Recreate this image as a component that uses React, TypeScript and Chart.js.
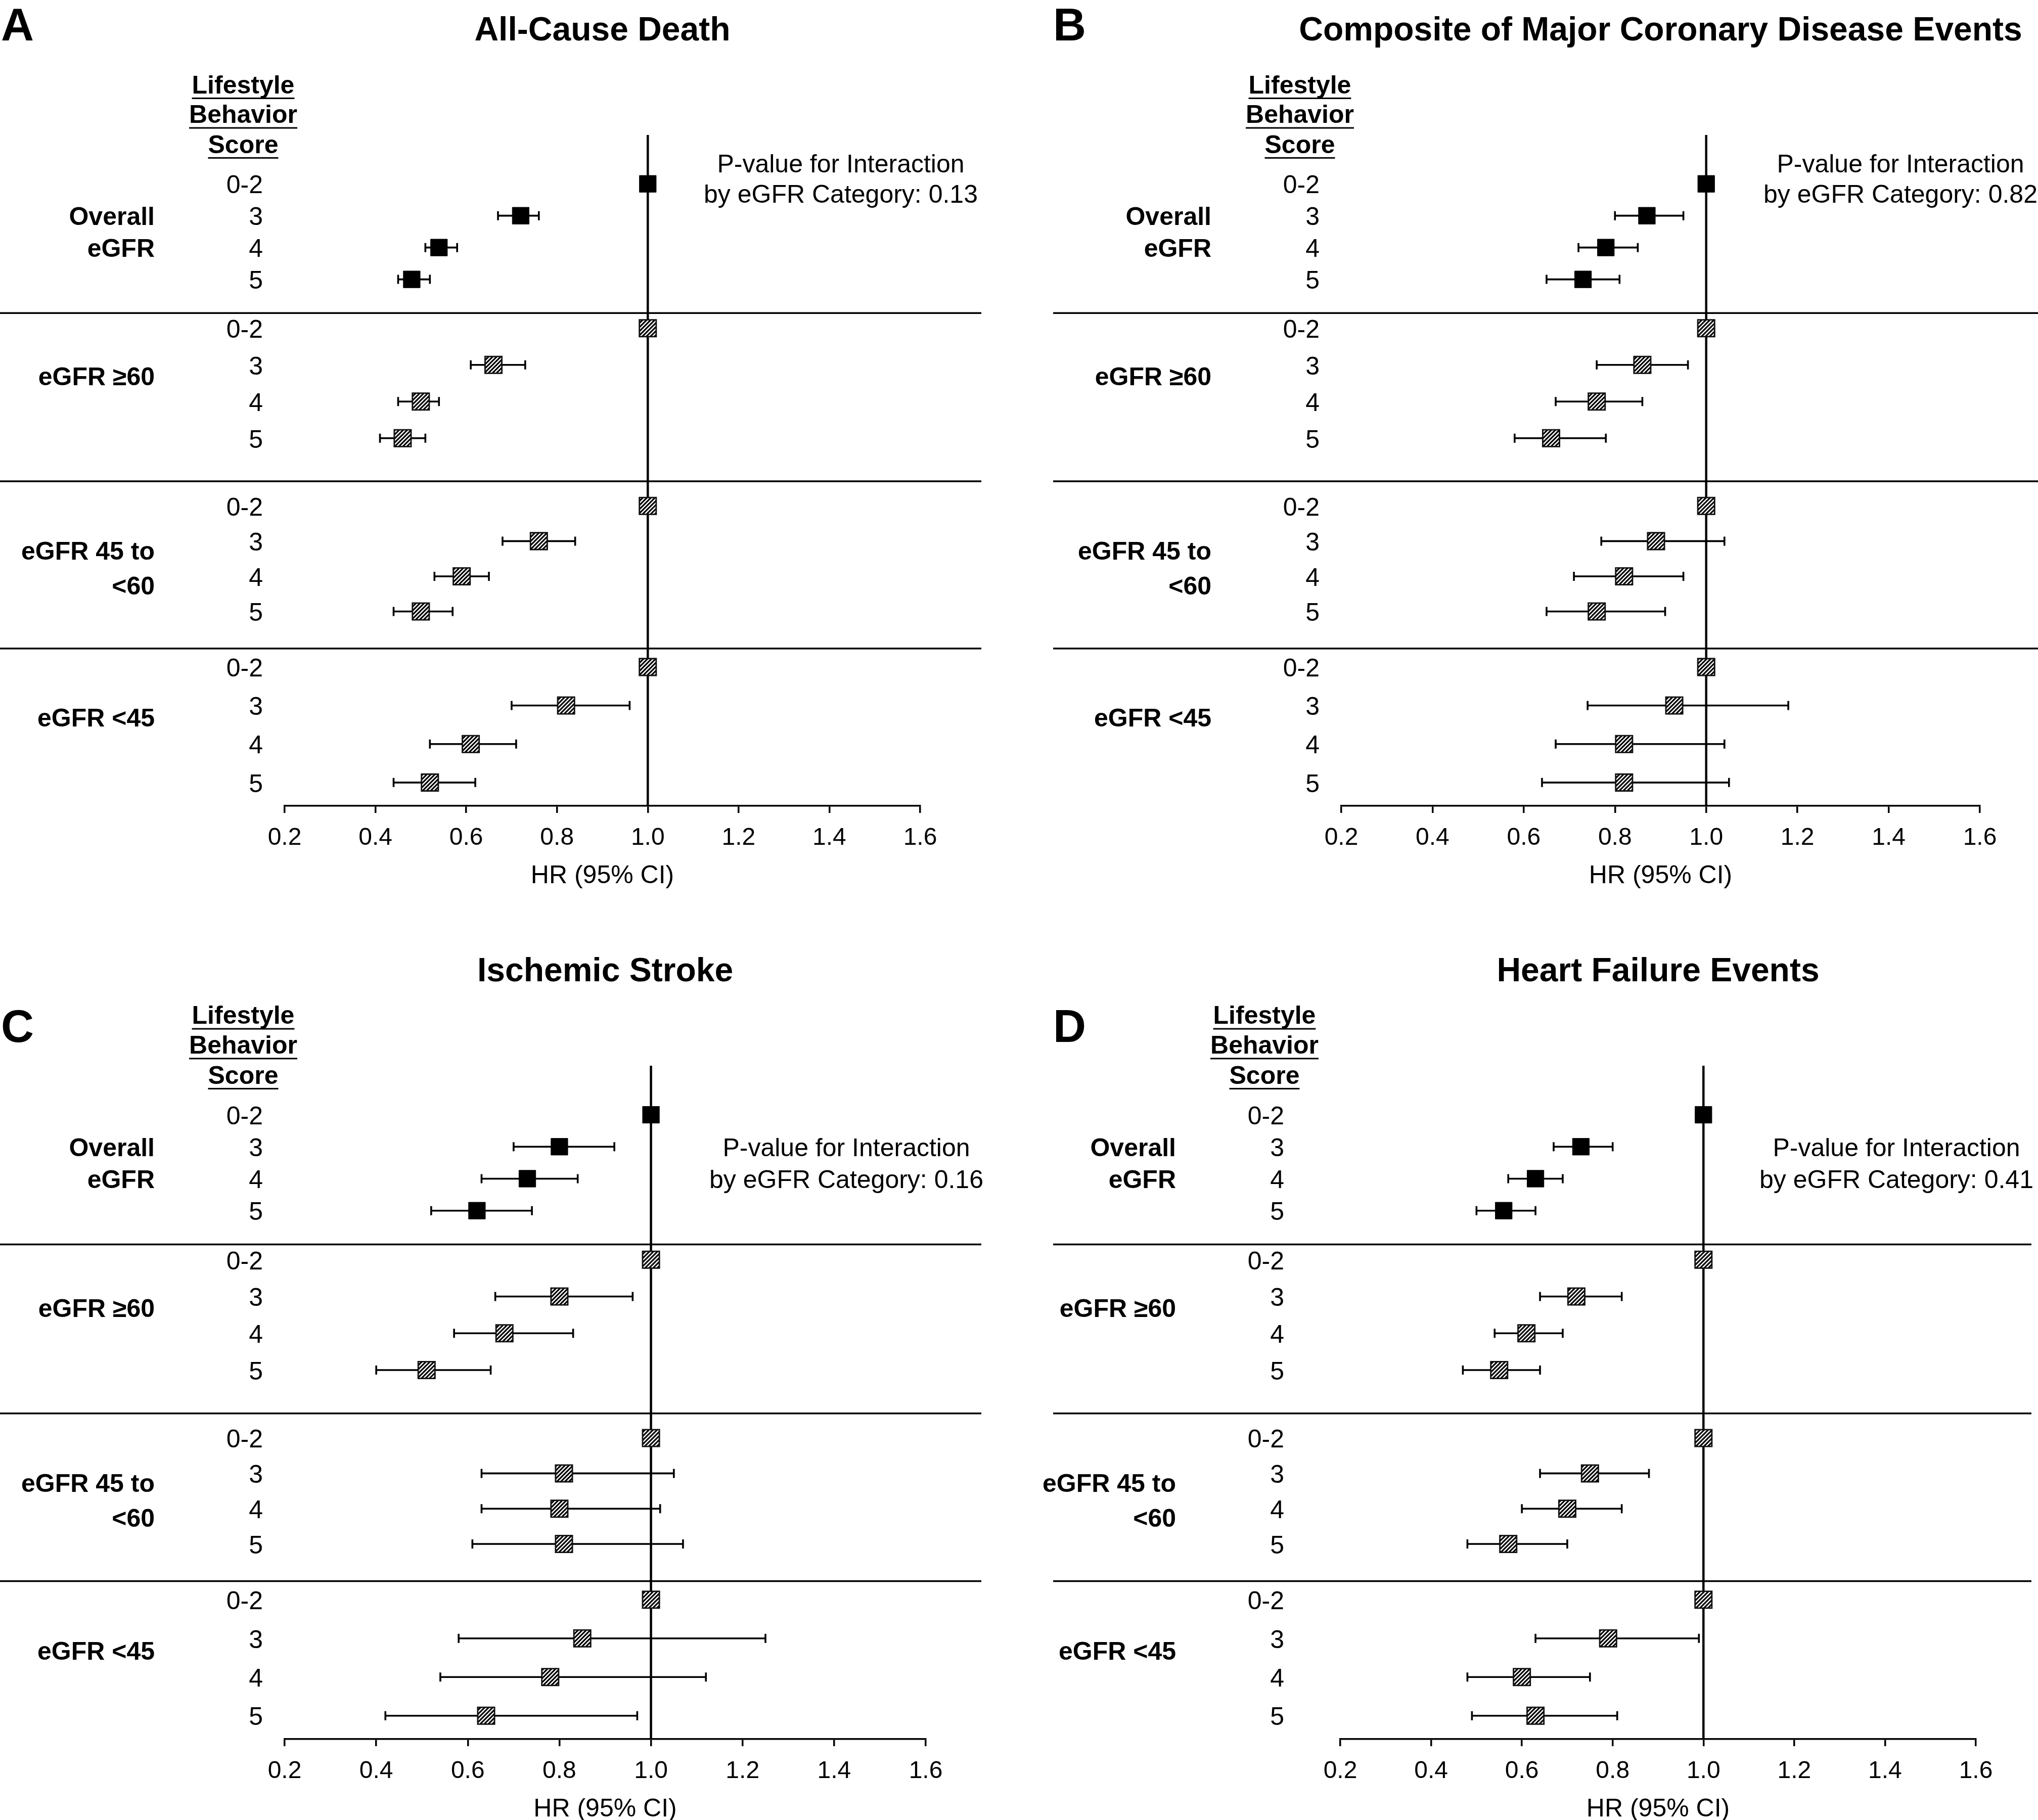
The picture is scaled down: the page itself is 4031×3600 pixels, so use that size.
import React, { useEffect, useRef } from 'react';
import { Chart, registerables } from 'chart.js';

Chart.register(...registerables);

// ---------------- data ----------------
const PANEL_LETTERS = ['A', 'B', 'C', 'D'];
const PANEL_TITLES = [
  'All-Cause Death',
  'Composite of Major Coronary Disease Events',
  'Ischemic Stroke',
  'Heart Failure Events',
];
const P_VALUES = ['0.13', '0.82', '0.16', '0.41'];
const P_LINE_1 = 'P-value for Interaction';
const P_LINE_2 = 'by eGFR Category: ';
const HEADER_LINES = ['Lifestyle', 'Behavior', 'Score'];
const GROUP_LABELS = [['Overall', 'eGFR'], ['eGFR \u226560'], ['eGFR 45 to', '<60'], ['eGFR <45']];
const SCORE_LABELS = ['0-2', '3', '4', '5'];
const X_TICKS = [0.2, 0.4, 0.6, 0.8, 1.0, 1.2, 1.4, 1.6];
const X_TITLE = 'HR (95% CI)';
const REFERENCE_HR = 1.0;

// rows: Overall(0-2,3,4,5), eGFR>=60(...), eGFR 45-<60(...), eGFR<45(...)
const A_HR = [1.0, 0.72, 0.54, 0.48, 1.0, 0.66, 0.5, 0.46, 1.0, 0.76, 0.59, 0.5, 1.0, 0.82, 0.61, 0.52];
const A_LO = [null, 0.67, 0.51, 0.45, null, 0.61, 0.45, 0.41, null, 0.68, 0.53, 0.44, null, 0.7, 0.52, 0.44];
const A_HI = [null, 0.76, 0.58, 0.52, null, 0.73, 0.54, 0.51, null, 0.84, 0.65, 0.57, null, 0.96, 0.71, 0.62];

const B_HR = [1.0, 0.87, 0.78, 0.73, 1.0, 0.86, 0.76, 0.66, 1.0, 0.89, 0.82, 0.76, 1.0, 0.93, 0.82, 0.82];
const B_LO = [null, 0.8, 0.72, 0.65, null, 0.76, 0.67, 0.58, null, 0.77, 0.71, 0.65, null, 0.74, 0.67, 0.64];
const B_HI = [null, 0.95, 0.85, 0.81, null, 0.96, 0.86, 0.78, null, 1.04, 0.95, 0.91, null, 1.18, 1.04, 1.05];

const C_HR = [1.0, 0.8, 0.73, 0.62, 1.0, 0.8, 0.68, 0.51, 1.0, 0.81, 0.8, 0.81, 1.0, 0.85, 0.78, 0.64];
const C_LO = [null, 0.7, 0.63, 0.52, null, 0.66, 0.57, 0.4, null, 0.63, 0.63, 0.61, null, 0.58, 0.54, 0.42];
const C_HI = [null, 0.92, 0.84, 0.74, null, 0.96, 0.83, 0.65, null, 1.05, 1.02, 1.07, null, 1.25, 1.12, 0.97];

const D_HR = [1.0, 0.73, 0.63, 0.56, 1.0, 0.72, 0.61, 0.55, 1.0, 0.75, 0.7, 0.57, 1.0, 0.79, 0.6, 0.63];
const D_LO = [null, 0.67, 0.57, 0.5, null, 0.64, 0.54, 0.47, null, 0.64, 0.6, 0.48, null, 0.63, 0.48, 0.49];
const D_HI = [null, 0.8, 0.69, 0.63, null, 0.82, 0.69, 0.64, null, 0.88, 0.82, 0.7, null, 0.99, 0.75, 0.81];

const HRS = [A_HR, B_HR, C_HR, D_HR];
const LOS = [A_LO, B_LO, C_LO, D_LO];
const HIS = [A_HI, B_HI, C_HI, D_HI];

// ---------------- layout ----------------
const FONT = '"Liberation Sans", Arial, Helvetica, sans-serif';
const ROWS_PER_GROUP = 4;
const GROUP_START = [0, 3.9, 8.7, 13.05];
const ROW_STEP = [0.86, 0.99, 0.95, 1.04];
const Y_MIN = -1.32;
const Y_MAX = 16.8;
const X_AXIS_HEIGHT = 164;
const TEXT_DY = 5;

const LAYOUT = [
  { left: 0, top: 0, width: 2000, height: 1800, pad: { left: 563, right: 180, top: 267, bottom: 42 }, titleY: 62, letterX: 2, letterY: 55, shift: 0, pRows: [-0.56, 0.25], sepX: [0, 1941] },
  { left: 2031, top: 0, width: 2000, height: 1800, pad: { left: 622, right: 115, top: 267, bottom: 42 }, titleY: 62, letterX: 52, letterY: 55, shift: 0, pRows: [-0.56, 0.25], sepX: [52, 2000] },
  { left: 0, top: 1800, width: 2000, height: 1810, pad: { left: 563, right: 169, top: 308, bottom: 6 }, titleY: 123, letterX: 2, letterY: 236, shift: 0, pRows: [0.86, 1.72], sepX: [0, 1941] },
  { left: 2031, top: 1800, width: 2000, height: 1810, pad: { left: 620, right: 123, top: 308, bottom: 6 }, titleY: 123, letterX: 52, letterY: 236, shift: 68, pRows: [0.86, 1.72], sepX: [52, 1987] },
];

const rowPos = (i: number) => {
  const g = Math.floor(i / ROWS_PER_GROUP);
  return GROUP_START[g] + (i % ROWS_PER_GROUP) * ROW_STEP[g];
};
const sepPos = (g: number) => (rowPos(g * ROWS_PER_GROUP - 1) + GROUP_START[g]) / 2 + 0.25;

function makeHatch(ctx: CanvasRenderingContext2D) {
  const c = document.createElement('canvas');
  c.width = 8;
  c.height = 8;
  const g = c.getContext('2d')!;
  g.fillStyle = '#fff';
  g.fillRect(0, 0, 8, 8);
  g.strokeStyle = '#000';
  g.lineWidth = 3.1;
  g.beginPath();
  g.moveTo(-2, 10);
  g.lineTo(10, -2);
  g.moveTo(-2, 2);
  g.lineTo(2, -2);
  g.moveTo(6, 10);
  g.lineTo(10, 6);
  g.stroke();
  return ctx.createPattern(c, 'repeat')!;
}

function forestPlugin(idx: number) {
  const L = LAYOUT[idx];
  return {
    id: 'forest' + idx,
    beforeDatasetsDraw(chart: any) {
      const ctx: CanvasRenderingContext2D = chart.ctx;
      const { top, bottom } = chart.chartArea;
      const xs = chart.scales.x;
      const ys = chart.scales.y;
      ctx.save();
      ctx.strokeStyle = '#000';
      // group separators
      ctx.lineWidth = 3.5;
      for (let g = 1; g < GROUP_START.length; g++) {
        const y = ys.getPixelForValue(sepPos(g));
        ctx.beginPath();
        ctx.moveTo(L.sepX[0], y);
        ctx.lineTo(L.sepX[1], y);
        ctx.stroke();
      }
      // reference line
      ctx.lineWidth = 4.5;
      const rx = xs.getPixelForValue(REFERENCE_HR);
      ctx.beginPath();
      ctx.moveTo(rx, top);
      ctx.lineTo(rx, bottom);
      ctx.stroke();
      // error bars
      const lo = LOS[idx];
      const hi = HIS[idx];
      ctx.lineWidth = 3.6;
      lo.forEach((l, i) => {
        const h = hi[i];
        if (l == null || h == null) return;
        const y = ys.getPixelForValue(rowPos(i));
        const x1 = xs.getPixelForValue(l);
        const x2 = xs.getPixelForValue(h);
        ctx.beginPath();
        ctx.moveTo(x1, y);
        ctx.lineTo(x2, y);
        ctx.moveTo(x1, y - 9);
        ctx.lineTo(x1, y + 9);
        ctx.moveTo(x2, y - 9);
        ctx.lineTo(x2, y + 9);
        ctx.stroke();
      });
      ctx.restore();
    },
    afterDraw(chart: any) {
      const ctx: CanvasRenderingContext2D = chart.ctx;
      const { left, right } = chart.chartArea;
      const ys = chart.scales.y;
      const yp = (v: number) => ys.getPixelForValue(v) + TEXT_DY;
      ctx.save();
      ctx.fillStyle = '#000';
      ctx.textBaseline = 'middle';
      // letter
      ctx.font = `bold 90px ${FONT}`;
      ctx.textAlign = 'left';
      ctx.fillText(PANEL_LETTERS[idx], L.letterX, L.letterY);
      // title
      ctx.font = `bold 66px ${FONT}`;
      ctx.textAlign = 'center';
      ctx.fillText(PANEL_TITLES[idx], (left + right) / 2, L.titleY);
      // header
      ctx.font = `bold 50px ${FONT}`;
      const hx = left - 82 - L.shift;
      const headerPos = [-2.7, -1.9, -1.09];
      HEADER_LINES.forEach((t, k) => {
        const y = yp(headerPos[k]);
        ctx.fillText(t, hx, y);
        const w = ctx.measureText(t).width;
        ctx.fillRect(hx - w / 2, y + 22, w, 3);
      });
      // score labels
      ctx.font = `50px ${FONT}`;
      ctx.textAlign = 'right';
      const sx = left - 43 - L.shift;
      HRS[idx].forEach((_, i) => {
        ctx.fillText(SCORE_LABELS[i % ROWS_PER_GROUP], sx, yp(rowPos(i)));
      });
      // group labels
      ctx.font = `bold 50px ${FONT}`;
      const gx = left - 257 - L.shift;
      GROUP_LABELS.forEach((lines, g) => {
        if (lines.length === 1) {
          ctx.fillText(lines[0], gx, yp(GROUP_START[g] + 1.3 * ROW_STEP[g]));
        } else {
          const off = g === 0 ? 0 : 0.25;
          ctx.fillText(lines[0], gx, yp(GROUP_START[g] + (1 + off) * ROW_STEP[g]));
          ctx.fillText(lines[1], gx, yp(GROUP_START[g] + (2 + off) * ROW_STEP[g]));
        }
      });
      // p-value
      ctx.font = `50px ${FONT}`;
      ctx.textAlign = 'center';
      const px = right - 157;
      ctx.fillText(P_LINE_1, px, yp(L.pRows[0]));
      ctx.fillText(P_LINE_2 + P_VALUES[idx], px, yp(L.pRows[1]));
      ctx.restore();
    },
  };
}

function Panel({ idx }: { idx: number }) {
  const ref = useRef<HTMLCanvasElement>(null);
  const L = LAYOUT[idx];
  useEffect(() => {
    const canvas = ref.current!;
    const ctx = canvas.getContext('2d')!;
    const pattern = makeHatch(ctx);
    const pts = HRS[idx].map((v, i) => ({ x: v, y: rowPos(i) }));
    const chart = new Chart(canvas, {
      type: 'scatter',
      data: {
        datasets: [
          {
            label: 'Overall eGFR',
            data: pts.slice(0, ROWS_PER_GROUP),
            pointStyle: 'rect',
            pointRadius: 23.5,
            pointHoverRadius: 23.5,
            backgroundColor: '#000',
            borderColor: '#000',
            borderWidth: 1,
          },
          {
            label: 'eGFR subgroups',
            data: pts.slice(ROWS_PER_GROUP),
            pointStyle: 'rect',
            pointRadius: 23.5,
            pointHoverRadius: 23.5,
            backgroundColor: pattern as any,
            borderColor: '#111',
            borderWidth: 2.8,
          },
        ],
      },
      options: {
        animation: false,
        responsive: false,
        devicePixelRatio: 1,
        events: [],
        layout: { padding: L.pad },
        plugins: { legend: { display: false }, tooltip: { enabled: false }, title: { display: false } },
        scales: {
          x: {
            type: 'linear',
            min: X_TICKS[0],
            max: X_TICKS[X_TICKS.length - 1],
            afterBuildTicks: (s: any) => {
              s.ticks = X_TICKS.map((v) => ({ value: v }));
            },
            afterFit: (s: any) => {
              s.height = X_AXIS_HEIGHT;
            },
            grid: {
              display: true,
              drawOnChartArea: false,
              drawTicks: true,
              tickLength: 14,
              tickWidth: 3.5,
              tickColor: '#000',
              color: '#000',
              lineWidth: 3.5,
            },
            border: { display: true, color: '#000', width: 3.5 },
            ticks: {
              padding: 21,
              color: '#000',
              maxRotation: 0,
              autoSkip: false,
              font: { family: FONT, size: 48 },
              callback: (v: any) => Number(v).toFixed(1),
            },
            title: {
              display: true,
              text: X_TITLE,
              color: '#000',
              padding: 0,
              font: { family: FONT, size: 50, lineHeight: 1 },
            },
          },
          y: { type: 'linear', display: false, reverse: true, min: Y_MIN, max: Y_MAX },
        },
      },
      plugins: [forestPlugin(idx)],
    } as any);
    return () => chart.destroy();
  }, [idx]);
  return (
    <canvas
      ref={ref}
      width={L.width}
      height={L.height}
      style={{ position: 'absolute', left: L.left, top: L.top, width: L.width, height: L.height }}
    />
  );
}

export default function App() {
  return (
    <div style={{ position: 'absolute', left: 0, top: 0, width: 4031, height: 3600, background: '#fff', overflow: 'hidden' }}>
      {PANEL_LETTERS.map((_, i) => (
        <Panel key={i} idx={i} />
      ))}
    </div>
  );
}
